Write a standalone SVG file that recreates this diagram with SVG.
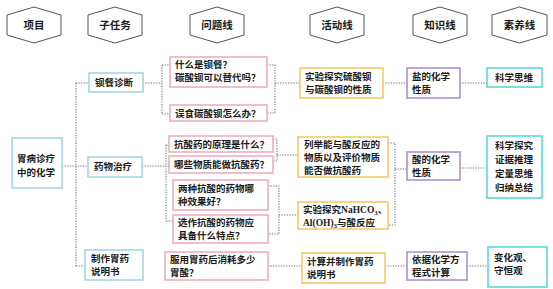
<svg xmlns="http://www.w3.org/2000/svg" width="553" height="289" viewBox="0 0 553 289">
<style>
text{font-family:"Noto Sans CJK SC","Liberation Sans",sans-serif;font-size:9.5px;font-weight:bold;fill:#1a1a1a}
.hdr{font-size:10.5px;text-anchor:middle}
.hex{fill:#fff;stroke:#555;stroke-width:1}
.bl{fill:#fff;stroke:#9fd4e4;stroke-width:1.5}
.pk{fill:#fff;stroke:#eba9bd;stroke-width:1.5}
.gd{fill:#fff;stroke:#f4c95f;stroke-width:1.5}
.pu{fill:#fff;stroke:#a88bd0;stroke-width:1.5}
.cy{fill:#fff;stroke:#52d6d6;stroke-width:1.5}
.con path{fill:none;stroke:#6e6e6e;stroke-width:1.1;stroke-dasharray:1.2 1.4}
.lat{font-family:"Liberation Serif",serif}
</style>
<rect width="553" height="289" fill="#fff"/>
<g id="headers">
<g id="h1"><polygon class="hex" points="34,7 61,15 61,35 34,43 7,35 7,15"/><text class="hdr" x="34" y="29">项目</text></g>
<g id="h2"><polygon class="hex" points="115,7 142,15 142,35 115,43 88,35 88,15"/><text class="hdr" x="115" y="29">子任务</text></g>
<g id="h3"><polygon class="hex" points="217,7 244,15 244,35 217,43 190,35 190,15"/><text class="hdr" x="217" y="29">问题线</text></g>
<g id="h4"><polygon class="hex" points="337,7 364,15 364,35 337,43 310,35 310,15"/><text class="hdr" x="337" y="29">活动线</text></g>
<g id="h5"><polygon class="hex" points="440,7 467,15 467,35 440,43 413,35 413,15"/><text class="hdr" x="440" y="29">知识线</text></g>
<g id="h6"><polygon class="hex" points="519.5,7 547,15 547,35 519.5,43 492,35 492,15"/><text class="hdr" x="519.5" y="29">素养线</text></g>
</g>
<g class="con" id="connectors">
<path d="M62,166 H88 M76,83 V266 M76,83 H89 M76,266 H85"/>
<path d="M143,83 H162 M162,65 V114 M162,65 H170 M162,114 H170"/>
<path d="M142,166 H169 M166,145 V221 M166,145 H169 M166,221 H173"/>
<path d="M267,65 H275 V113 H267 M275,83 H300"/>
<path d="M273,139 H277 V161 H273 M277,155 H298"/>
<path d="M268,186 H279 V234 H268 M279,215 H298"/>
<path d="M268,266 H302"/>
<path d="M383,83 H407 M388,143 H395 V225 H388 M395,169 H407 M385,266 H407"/>
<path d="M460,83 H487 M460,168 H487 M467,266 H488"/>
</g>
<g id="root"><rect class="bl" x="12" y="138" width="50" height="50"/><text x="17" y="161.5">胃病诊疗</text><text x="17" y="175.5">中的化学</text></g>
<g id="t1"><rect class="bl" x="89" y="73" width="54" height="19"/><text x="95" y="86">钡餐诊断</text></g>
<g id="t2"><rect class="bl" x="88" y="157" width="54" height="20"/><text x="94" y="170">药物治疗</text></g>
<g id="t3"><rect class="bl" x="85" y="250" width="58" height="30"/><text x="91" y="261.5">制作胃药</text><text x="91" y="274.5">说明书</text></g>
<g id="q1"><rect class="pk" x="170" y="57" width="97" height="30"/><text x="175" y="68">什么是钡餐？</text><text x="175" y="81">碳酸钡可以替代吗？</text></g>
<g id="q2"><rect class="pk" x="170" y="105" width="97" height="16"/><text x="175" y="116.5">误食碳酸钡怎么办？</text></g>
<g id="q3"><rect class="pk" x="169" y="136" width="104" height="16"/><text x="174" y="147.5">抗酸药的原理是什么？</text></g>
<g id="q4"><rect class="pk" x="169" y="156" width="104" height="17"/><text x="174" y="168">哪些物质能做抗酸药？</text></g>
<g id="q5"><rect class="pk" x="173" y="180" width="95" height="30"/><text x="178" y="191.5">两种抗酸的药物哪</text><text x="178" y="204.5">种效果好？</text></g>
<g id="q6"><rect class="pk" x="173" y="215" width="95" height="28"/><text x="178" y="225.5">选作抗酸的药物应</text><text x="178" y="238.5">具备什么特点？</text></g>
<g id="q7"><rect class="pk" x="165" y="252" width="103" height="28"/><text x="170" y="263">服用胃药后消耗多少</text><text x="170" y="276">胃酸？</text></g>
<g id="a1"><rect class="gd" x="300" y="68" width="83" height="30"/><text x="305" y="80">实验探究硫酸钡</text><text x="305" y="93">与碳酸钡的性质</text></g>
<g id="a2"><rect class="gd" x="298" y="137" width="90" height="40"/><text x="304" y="148">列举能与酸反应的</text><text x="304" y="161">物质以及评价物质</text><text x="304" y="174">能否做抗酸药</text></g>
<g id="a3"><rect class="gd" x="298" y="202" width="90" height="27"/><text x="303" y="213">实验探究<tspan class="lat">NaHCO</tspan><tspan class="lat" font-size="7" dy="2">3</tspan><tspan dy="-2">、</tspan></text><text x="303" y="226"><tspan class="lat">Al(OH)</tspan><tspan class="lat" font-size="7" dy="2">3</tspan><tspan dy="-2">与酸反应</tspan></text></g>
<g id="a4"><rect class="gd" x="302" y="253" width="83" height="30"/><text x="307" y="265">计算并制作胃药</text><text x="307" y="278">说明书</text></g>
<g id="k1"><rect class="pu" x="407" y="68" width="53" height="30"/><text x="412" y="80">盐的化学</text><text x="412" y="93">性质</text></g>
<g id="k2"><rect class="pu" x="407" y="152" width="53" height="28"/><text x="412" y="163">酸的化学</text><text x="412" y="176">性质</text></g>
<g id="k3"><rect class="pu" x="407" y="252" width="60" height="28"/><text x="412" y="263">依据化学方</text><text x="412" y="276">程式计算</text></g>
<g id="l1"><rect class="cy" x="487" y="68" width="55" height="19"/><text x="495" y="81">科学思维</text></g>
<g id="l2"><rect class="cy" x="487" y="136" width="55" height="62"/><text x="495" y="149">科学探究</text><text x="495" y="163">证据推理</text><text x="495" y="177">定量思维</text><text x="495" y="191">归纳总结</text></g>
<g id="l3"><rect class="cy" x="488" y="247" width="59" height="40"/><text x="494" y="260.5">变化观、</text><text x="494" y="273.5">守恒观</text></g>
</svg>
